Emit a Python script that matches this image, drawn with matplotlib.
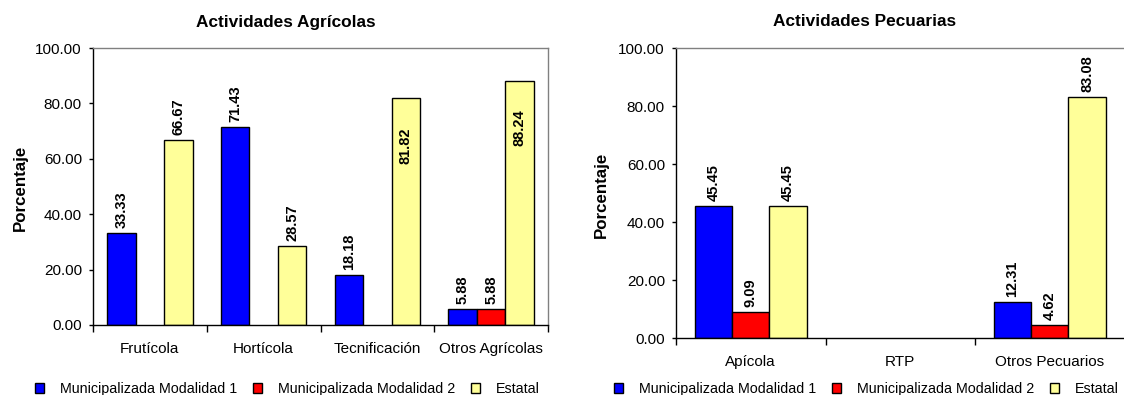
import numpy as np
import matplotlib
matplotlib.use("Agg")
import matplotlib.pyplot as plt

plt.rcParams["font.family"] = ["Liberation Sans", "DejaVu Sans"]

# Actividades agrícolas
cats_agri = ["Frutícola", "Hortícola", "Tecnificación", "Otros Agrícolas"]
mod1_agri = [33.33, 71.43, 18.18, 5.88]
mod2_agri = [0, 0, 0, 5.88]
estatal_agri = [66.67, 28.57, 81.82, 88.24]

# Actividades pecuarias
cats_pec = ["Apícola", "RTP", "Otros Pecuarios"]
mod1_pec = [45.45, 0, 12.31]
mod2_pec = [9.09, 0, 4.62]
estatal_pec = [45.45, 0, 83.08]

series_names = ["Municipalizada Modalidad 1", "Municipalizada Modalidad 2", "Estatal"]
colors = ["#0000FF", "#FF0000", "#FFFF99"]
bar_w = 0.25


def draw_panel(ax, cats, series, inside_from=None):
    x = np.arange(len(cats)) + 0.5
    handles = []
    for j, (vals, col) in enumerate(zip(series, colors)):
        bars = ax.bar(x + (j - 1) * bar_w, vals, bar_w, color=col,
                      edgecolor="black", linewidth=1.0, label=series_names[j])
        handles.append(bars)
        for b, v in zip(bars, vals):
            if v == 0:
                # empty bars leave no outline on the axis
                b.set_visible(False)
                continue
            cx = b.get_x() + b.get_width() / 2
            if inside_from is not None and v >= inside_from:
                ax.annotate(f"{v:.2f}", (cx, v), xytext=(0, -21), textcoords="offset points",
                            rotation=90, ha="center", va="top", fontsize=10.5, fontweight="bold")
            else:
                ax.annotate(f"{v:.2f}", (cx, v), xytext=(0, 3.5), textcoords="offset points",
                            rotation=90, ha="center", va="bottom", fontsize=10.5, fontweight="bold")

    ax.set_xlim(0, len(cats))
    ax.set_ylim(0, 100)
    ax.set_yticks(np.arange(0, 101, 20))
    ax.set_yticklabels([f"{t:.2f}" for t in np.arange(0, 101, 20)], fontsize=11)
    ax.set_xticks(x)
    ax.set_xticklabels(cats, fontsize=11)
    ax.tick_params(axis="x", which="major", length=0, pad=12)
    ax.set_xticks(np.arange(len(cats) + 1), minor=True)
    ax.tick_params(axis="x", which="minor", length=5, width=1, direction="out")
    ax.tick_params(axis="y", length=3, width=1, direction="out", pad=5)
    for side in ["top", "right"]:
        ax.spines[side].set_color("#808080")
    for side in ["left", "bottom"]:
        ax.spines[side].set_color("#000000")
    for sp in ax.spines.values():
        sp.set_linewidth(1.0)
    return handles


fig = plt.figure(figsize=(11.24, 3.95), dpi=100)

ax1 = fig.add_axes([93 / 1124, 1 - 325 / 395, 455 / 1124, 277 / 395])
h1 = draw_panel(ax1, cats_agri, [mod1_agri, mod2_agri, estatal_agri], inside_from=80)

ax2 = fig.add_axes([676 / 1124, 1 - 338 / 395, 448.5 / 1124, 290 / 395])
h2 = draw_panel(ax2, cats_pec, [mod1_pec, mod2_pec, estatal_pec])

fig.text(286 / 1124, 1 - 22 / 395, "Actividades Agrícolas", ha="center", va="center",
         fontsize=12.4, fontweight="bold")
fig.text(865 / 1124, 1 - 22 / 395, "Actividades Pecuarias", ha="center", va="center",
         fontsize=12.4, fontweight="bold")
fig.text(20 / 1124, 1 - 188 / 395, "Porcentaje", rotation=90, ha="center", va="center",
         fontsize=12.2, fontweight="bold")
fig.text(601 / 1124, 1 - 195 / 395, "Porcentaje", rotation=90, ha="center", va="center",
         fontsize=12.2, fontweight="bold")

for handles, cx in [(h1, 287), (h2, 866)]:
    leg = fig.legend(handles, series_names, loc="center", bbox_to_anchor=(cx / 1124, 1 - 389 / 395),
                     ncol=3, frameon=False, fontsize=10.3, handlelength=0.65, handleheight=0.65,
                     handletextpad=1.1, columnspacing=1.1, borderpad=0)
    for patch in leg.get_patches():
        patch.set_visible(True)

fig.savefig("out.png", dpi=100)
